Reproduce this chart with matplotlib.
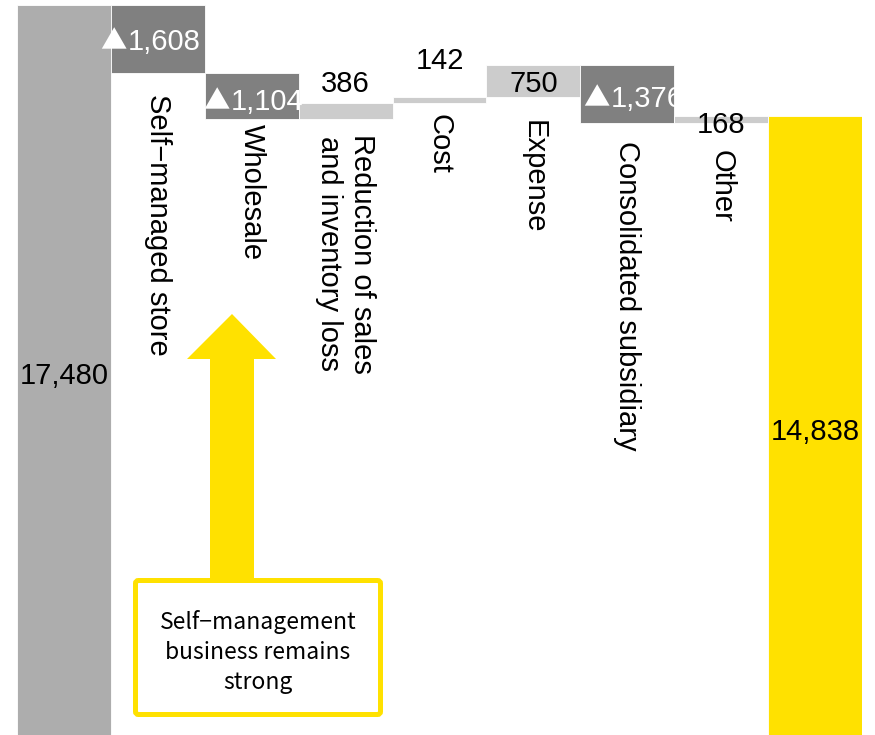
import matplotlib
matplotlib.use('Agg')
import matplotlib.pyplot as plt
from matplotlib.patches import Polygon, FancyBboxPatch
import numpy as np

categories = ['Self\u2212managed store', 'Wholesale', 'Reduction of sales\nand inventory loss',
              'Cost', 'Expense', 'Consolidated subsidiary', 'Other']
start_value = 17480
changes = [-1608, -1104, 386, 142, 750, -1376, 168]
end_value = 14838
note_text = 'Self\u2212management\nbusiness remains\nstrong'

# label nudges in pixels (down / right positive) and gaps under the bars for category names
value_nudge_px = [3, 6, -27, -39, 3, 5, 5]
value_shift_px = [-9, 0, 0, 0, 0, 4, 0]
name_gap_px = [21, 5, 15, 11, 23, 18, 27]

START_COLOR = '#adadad'
DOWN_COLOR = '#808080'
UP_COLOR = '#cccccc'
YELLOW = '#ffe100'
FONT = ['Liberation Sans', 'DejaVu Sans']
CJK = ['Noto Sans CJK JP', 'DejaVu Sans']
FS = 21

W, H = 875, 735
fig = plt.figure(figsize=(W / 100, H / 100), dpi=100)
ax = fig.add_axes([17 / W, 0, 845 / W, 1])
ax.set_xlim(-0.5, 8.5)
ax.set_ylim(105, 17600)
ax.axis('off')

px = 0.72  # points per pixel at dpi 100

# totals
ax.bar(0, start_value, width=1.0, color=START_COLOR, edgecolor='white', linewidth=0.6)
ax.bar(8, end_value, width=1.0, color=YELLOW, edgecolor='white', linewidth=0.6)
for xpos, v in [(0, start_value), (8, end_value)]:
    ax.annotate(f'{v:,}', (xpos, v / 2), xytext=(0, -4 * px), textcoords='offset points',
                ha='center', va='center', fontsize=FS, family=FONT, color='black')

level = start_value
for i, c in enumerate(changes):
    x = i + 1
    before, after = level, level + c
    lo = min(before, after)
    col = DOWN_COLOR if c < 0 else UP_COLOR
    ax.bar(x, abs(c), bottom=lo, width=1.0, color=col, edgecolor='white', linewidth=0.6)
    mid = (before + after) / 2
    dy = -value_nudge_px[i] * px
    dx = value_shift_px[i] * px
    if c < 0:
        # full-width triangle marks a decrease
        ax.annotate(f'{-c:,}', (x, mid), xytext=(dx - 21 * px, dy), textcoords='offset points',
                    ha='left', va='center', fontsize=FS, family=FONT, color='white')
        ax.annotate('\u25b2', (x, mid), xytext=(dx - 22 * px, dy), textcoords='offset points',
                    ha='right', va='center', fontsize=FS - 2, family=CJK, color='white')
    else:
        ax.annotate(f'{c:,}', (x, mid), xytext=(dx, dy), textcoords='offset points',
                    ha='center', va='center', fontsize=FS, family=FONT, color='black')
    ax.annotate(categories[i], (x, lo), xytext=(0, -name_gap_px[i] * px),
                textcoords='offset points', ha='center', va='top', rotation=270,
                fontsize=FS, family=FONT, color='black')
    level = after

# callout arrow and box, drawn in pixel space
ov = fig.add_axes([0, 0, 1, 1])
ov.set_xlim(0, W)
ov.set_ylim(H, 0)
ov.axis('off')
arrow = Polygon([(210, 580), (210, 359), (187, 359), (232, 314), (276, 359),
                 (254, 359), (254, 580)], closed=True, facecolor=YELLOW, edgecolor='none')
ov.add_patch(arrow)
box = FancyBboxPatch((135.5, 580.5), 245, 134, boxstyle='round,pad=0,rounding_size=3',
                     facecolor='white', edgecolor=YELLOW, linewidth=5 * px)
ov.add_patch(box)
ov.text(258, 652, note_text, ha='center', va='center', fontsize=16.5,
        family=CJK, linespacing=1.4, color='black')

fig.savefig('out.png', dpi=100)
